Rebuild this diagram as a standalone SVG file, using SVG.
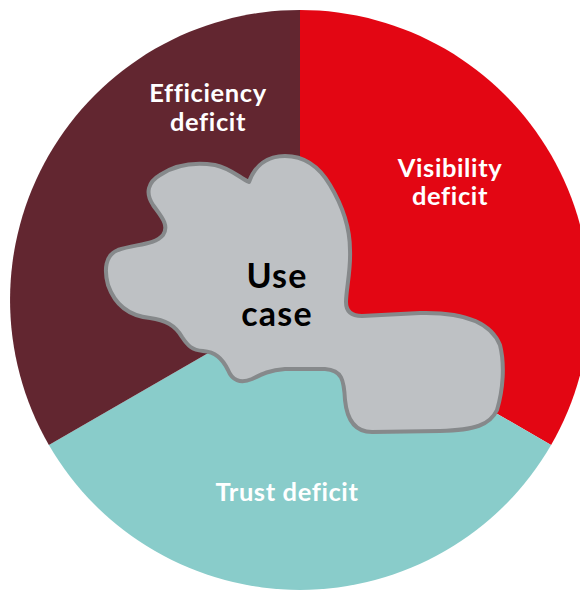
<svg xmlns="http://www.w3.org/2000/svg" width="580" height="590" viewBox="0 0 580 590">
<style>
.lbl{font-family:Lato,"Open Sans","Liberation Sans",sans-serif;font-weight:700;fill:#ffffff;font-size:25.5px;letter-spacing:0.6px;text-anchor:middle}
.uc{font-family:Lato,"Open Sans","Liberation Sans",sans-serif;font-weight:700;fill:#000000;font-size:34px;letter-spacing:1.2px;text-anchor:middle}
</style>
<rect width="580" height="590" fill="#ffffff"/>
<g id="sectors">
<g id="visibility">
<path d="M300,300 L300,10 A290,290 0 0,1 551.1,445 Z" fill="#E30613"/>
<text class="lbl" x="450" y="177">Visibility</text>
<text class="lbl" x="450" y="205">deficit</text>
</g>
<g id="trust">
<path d="M300,300 L551.1,445 A290,290 0 0,1 48.9,445 Z" fill="#89CCCA"/>
<text class="lbl" x="287" y="501">Trust deficit</text>
</g>
<g id="efficiency">
<path d="M300,300 L48.9,445 A290,290 0 0,1 300,10 Z" fill="#622630"/>
<text class="lbl" x="208" y="102">Efficiency</text>
<text class="lbl" x="208" y="131">deficit</text>
</g>
</g>
<g id="connectors"></g>
<g id="usecase">
<path d="M249,182 C255,165 268,156 285,156 C305,156 320,168 330,185 C342,205 350,225 350,250 C351,270 346,290 346,302 C346,312 352,316 362,316 L420,313 C460,312 490,320 500,345 C505,365 503,390 497,410 C490,425 475,430 440,431 L372,432 C355,432 347,420 345,400 C344,380 342,370 325,369 L285,369 C270,370 262,374 252,379 C240,384 232,380 228,370 C222,358 215,352 203,351 C192,350 188,346 182,337 C175,325 165,320 150,318 C130,316 115,305 108,285 C104,270 105,255 118,250 C135,244 155,245 163,235 C170,225 160,215 153,205 C145,193 148,182 160,175 C175,165 195,162 215,165 C230,168 240,178 249,182 Z" fill="#BEC1C4" stroke="#86898B" stroke-width="4" stroke-linejoin="round"/>
<text class="uc" x="277" y="288">Use</text>
<text class="uc" x="277" y="326">case</text>
</g>
</svg>
